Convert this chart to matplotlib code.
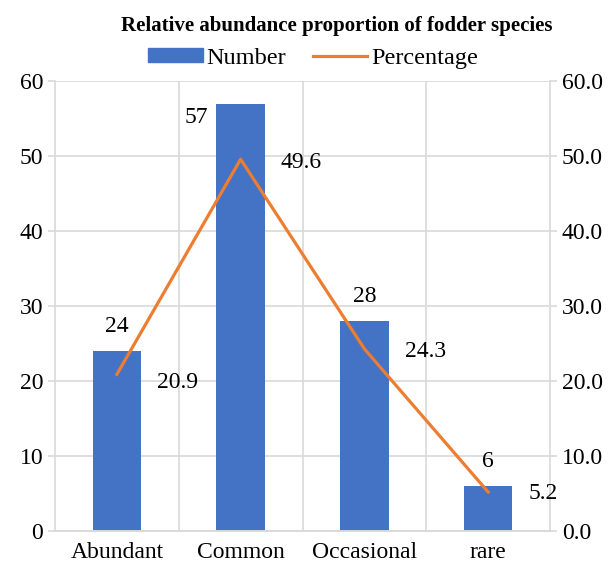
import matplotlib.pyplot as plt
import numpy as np
from matplotlib.patches import Patch
from matplotlib.lines import Line2D

plt.rcParams['font.family'] = ['Liberation Serif', 'DejaVu Serif']

categories = ['Abundant', 'Common', 'Occasional', 'rare']
number = [24, 57, 28, 6]
percentage = [20.9, 49.6, 24.3, 5.2]

bar_color = '#4472C4'
line_color = '#ED7D31'
grid_color = '#D9D9D9'

fig = plt.figure(figsize=(6.15, 5.7), dpi=100)
ax = fig.add_axes([0.0894, 0.0684, 0.805, 0.789])
ax2 = ax.twinx()

x = np.arange(len(categories))
ax.bar(x, number, width=0.39, color=bar_color, zorder=2)
ax2.plot(x, percentage, color=line_color, linewidth=2.3, zorder=3)

ax.set_xlim(-0.5, len(categories) - 0.5)
ax.set_ylim(0, 60)
ax2.set_ylim(0, 60)
ax.set_yticks(np.arange(0, 61, 10))
ax2.set_yticks(np.arange(0, 61, 10))
ax2.set_yticklabels([f'{v:.1f}' for v in np.arange(0, 61, 10)])
ax.set_xticks(x)
ax.set_xticklabels(categories)

# grid: horizontal at ticks, vertical at category boundaries
ax.set_axisbelow(True)
ax.yaxis.grid(True, color=grid_color, linewidth=1.2)
for b in np.arange(0.5, len(categories) - 0.5, 1):
    ax.axvline(b, color=grid_color, linewidth=1.2, zorder=0)

for a in (ax, ax2):
    for s in a.spines.values():
        s.set_color(grid_color)
        s.set_linewidth(1.2)
    a.spines['top'].set_visible(False)
    a.tick_params(labelsize=17, colors='black', length=5, width=1.2)
    a.tick_params(axis='y', color=grid_color)
ax.tick_params(axis='x', length=0, pad=8)
ax2.spines['left'].set_visible(False)
ax.spines['right'].set_visible(False)

# data labels
bar_offsets = [(0, 10), (-32, -10), (0, 10), (0, 10)]
for xi, v, off in zip(x, number, bar_offsets):
    ax.annotate(str(v), (xi, v), xytext=off, textcoords='offset points',
                ha='center', va='center' if off[1] < 0 else 'bottom', fontsize=17)
pct_dy = [-6, -2, -2, -1]
for xi, v, dy in zip(x, percentage, pct_dy):
    ax2.annotate(f'{v:.1f}', (xi, v), xytext=(29, dy), textcoords='offset points',
                 ha='left', va='center', fontsize=17)

fig.text(0.547, 0.955, 'Relative abundance proportion of fodder species',
         ha='center', va='center', fontsize=15, fontweight='bold')

handles = [Patch(color=bar_color), Line2D([0], [0], color=line_color, linewidth=2.3)]
fig.legend(handles, ['Number', 'Percentage'], loc='center', bbox_to_anchor=(0.509, 0.898),
           ncol=2, frameon=False, fontsize=17.5, handlelength=2.25, handleheight=0.55,
           handletextpad=0.15, columnspacing=1.1)

fig.savefig('out.png', dpi=100)
